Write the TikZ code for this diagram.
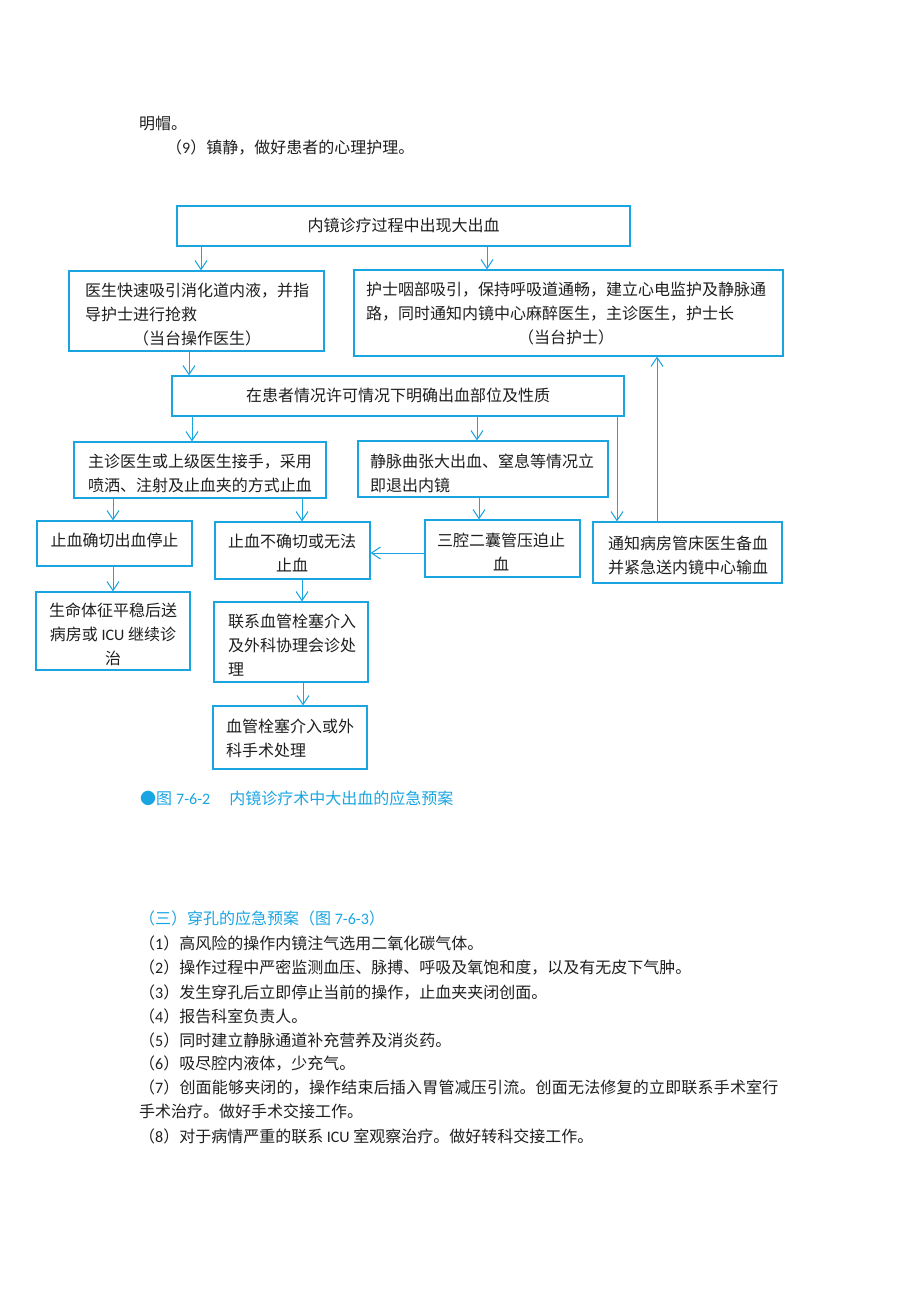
\documentclass[tikz,border=0pt]{standalone}
\usepackage{fontspec}
\setmainfont{Noto Sans CJK SC}
\newfontfamily\lat{Carlito}
\usetikzlibrary{arrows.meta}
\definecolor{fb}{RGB}{25,165,225}
\definecolor{tx}{RGB}{30,30,30}
\begin{document}
\begin{tikzpicture}[x=1pt,y=-1pt,
  box/.style={draw=fb, line width=1.2pt, inner sep=0pt},
  btext/.style={inner sep=0pt, font=\fontsize{16}{24}\selectfont, text=tx, align=center},
  arr/.style={draw=fb, line width=1pt, -{Straight Barb[length=9pt,width=12pt]}},
  body/.style={anchor=base west, inner sep=0pt, font=\fontsize{16}{24}\selectfont, text=tx},
  bluetext/.style={body, text=fb}]
\useasboundingbox (0,0) rectangle (920,1302);

% body text above
\node[body] (t0) at (139,129) {明帽。};
\node[body] (t9) at (166,153) {（{\lat 9}）镇静，做好患者的心理护理。};

% flowchart boxes
\node[box, minimum width=453, minimum height=40] (top) at (403.5,226) {};
\node[btext] (topt) at (403.5,225) {内镜诊疗过程中出现大出血};
\node[box, minimum width=255, minimum height=80] (lbox) at (196.5,311) {};
\node[btext] (lboxt) at (197,315)
  {医生快速吸引消化道内液，并指\\\makebox[14em][l]{导护士进行抢救}\\（当台操作医生）};
\node[box, minimum width=429, minimum height=86] (rbox) at (568.5,313) {};
\node[btext] (rboxt) at (566,313.5)
  {护士咽部吸引，保持呼吸道通畅，建立心电监护及静脉通\\\makebox[25em][l]{路，同时通知内镜中心麻醉医生，主诊医生，护士长}\\（当台护士）};
\node[box, minimum width=452, minimum height=40] (mid) at (398,396) {};
\node[btext] (midt) at (398,395) {在患者情况许可情况下明确出血部位及性质};
\node[box, minimum width=252, minimum height=56] (zhu) at (200,470) {};
\node[btext] (zhut) at (200,473)
  {主诊医生或上级医生接手，采用\\喷洒、注射及止血夹的方式止血};
\node[box, minimum width=250, minimum height=56] (jing) at (483,469) {};
\node[btext] (jingt) at (482,473)
  {静脉曲张大出血、窒息等情况立\\\makebox[14em][l]{即退出内镜}};
\node[box, minimum width=155, minimum height=45] (que) at (114.5,543.5) {};
\node[btext] (quet) at (114.5,540) {止血确切出血停止};
\node[box, minimum width=155, minimum height=57] (buque) at (292.5,550.5) {};
\node[btext] (buquet) at (292,553) {止血不确切或无法\\止血};
\node[box, minimum width=155, minimum height=57] (san) at (502.5,548.5) {};
\node[btext] (sant) at (501,552) {三腔二囊管压迫止\\血};
\node[box, minimum width=189, minimum height=61] (tz) at (687.5,552.5) {};
\node[btext] (tzt) at (688,555) {通知病房管床医生备血\\并紧急送内镜中心输血};
\node[box, minimum width=154, minimum height=78] (sheng) at (113,631) {};
\node[btext] (shengt) at (113,634)
  {生命体征平稳后送\\病房或{\lat\ ICU\ }继续诊\\治};
\node[box, minimum width=154, minimum height=80] (lian) at (291,642) {};
\node[btext] (liant) at (292,645)
  {联系血管栓塞介入\\及外科协理会诊处\\\makebox[8em][l]{理}};
\node[box, minimum width=154, minimum height=63] (xue) at (290,737.5) {};
\node[btext] (xuet) at (290,738)
  {血管栓塞介入或外\\\makebox[8em][l]{科手术处理}};

% connectors
\draw[arr] (201,0 |- top.south) -- (201,0 |- lbox.north);
\draw[arr] (487,0 |- top.south) -- (487,0 |- rbox.north);
\draw[arr] (189,0 |- lbox.south) -- (189,0 |- mid.north);
\draw[arr] (192,0 |- mid.south) -- (192,0 |- zhu.north);
\draw[arr] (477,0 |- mid.south) -- (477,0 |- jing.north);
\draw[arr] (617,0 |- mid.south) -- (617,0 |- tz.north);
\draw[arr] (113,0 |- zhu.south) -- (113,0 |- que.north);
\draw[arr] (302,0 |- zhu.south) -- (302,0 |- buque.north);
\draw[arr] (479,0 |- jing.south) -- (479,0 |- san.north);
\draw[arr] (san.west |- 0,553) -- (buque.east |- 0,553);
\draw[arr] (113,0 |- que.south) -- (113,0 |- sheng.north);
\draw[arr] (302,0 |- buque.south) -- (302,0 |- lian.north);
\draw[arr] (303,0 |- lian.south) -- (303,0 |- xue.north);
\draw[arr] (657,0 |- tz.north) -- (657,0 |- rbox.south);

% caption
\node[bluetext] (cap) at (140,804) {●图\hspace{4pt}{\lat 7-6-2}\hspace{19pt}内镜诊疗术中大出血的应急预案};

% section text
\node[bluetext] (h3) at (139,924) {（三）穿孔的应急预案（图{\lat\ 7-6-3}）};
\node[body] (p1) at (139,949) {（{\lat 1}）高风险的操作内镜注气选用二氧化碳气体。};
\node[body] (p2) at (139,973) {（{\lat 2}）操作过程中严密监测血压、脉搏、呼吸及氧饱和度，以及有无皮下气肿。};
\node[body] (p3) at (139,998) {（{\lat 3}）发生穿孔后立即停止当前的操作，止血夹夹闭创面。};
\node[body] (p4) at (139,1022) {（{\lat 4}）报告科室负责人。};
\node[body] (p5) at (139,1046) {（{\lat 5}）同时建立静脉通道补充营养及消炎药。};
\node[body] (p6) at (139,1069) {（{\lat 6}）吸尽腔内液体，少充气。};
\node[body] (p7) at (139,1093) {{\addfontfeatures{LetterSpace=1.2}（}{\lat 7}{\addfontfeatures{LetterSpace=1.2}）创面能够夹闭的，操作结束后插入胃管减压引流。创面无法修复的立即联系手术室行}};
\node[body] (p7b) at (139,1117) {手术治疗。做好手术交接工作。};
\node[body] (p8) at (139,1142) {（{\lat 8}）对于病情严重的联系{\lat\ ICU\ }室观察治疗。做好转科交接工作。};
\end{tikzpicture}
\end{document}
